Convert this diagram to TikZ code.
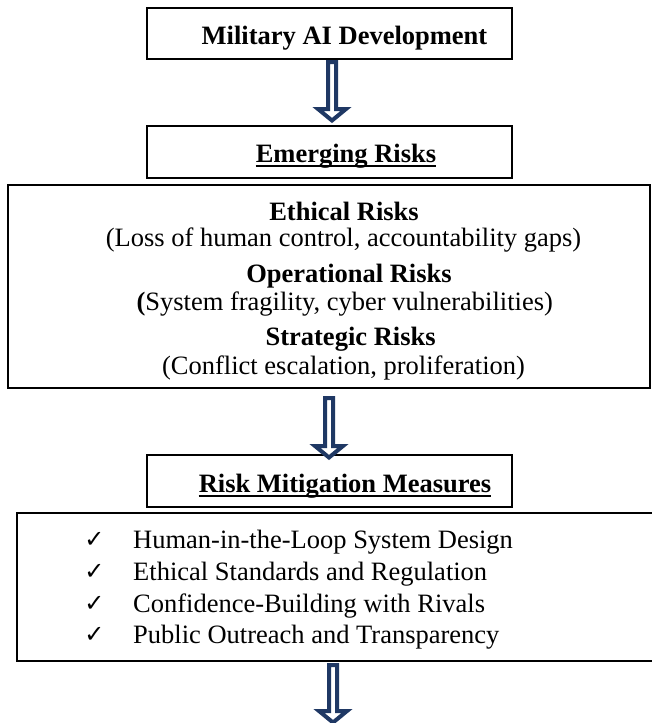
\documentclass[tikz,border=0pt]{standalone}
\usepackage{fontspec}
\setmainfont{Liberation Serif}
\newfontfamily\chkfont{DejaVu Sans}
\usetikzlibrary{calc}
\definecolor{navy}{HTML}{1F3864}
\begin{document}
\begin{tikzpicture}[x=1pt,y=-1pt,
  box/.style={draw=black, line width=2pt, inner sep=0pt, anchor=center},
  txt/.style={inner sep=0pt, anchor=base, font=\rmfamily\fontsize{26.5}{30}\selectfont},
  boldtxt/.style={inner sep=0pt, anchor=base, font=\rmfamily\fontsize{26.5}{30}\selectfont\bfseries},
  itemtxt/.style={inner sep=0pt, anchor=base west, font=\rmfamily\fontsize{26.5}{30}\selectfont},
  chk/.style={inner sep=0pt, anchor=base, font=\chkfont\fontsize{24}{28}\selectfont},
  barrow/.style={draw=navy, line width=4pt, fill=white, line join=miter},
  uline/.style={line width=1.8pt}]
\useasboundingbox (0,0) rectangle (652,723);
\fill[white] (0,0) rectangle (652,723);

% boxes
\node[box, minimum width=365pt, minimum height=51pt] (b1) at (329.5,33.5) {};
\node[box, minimum width=365pt, minimum height=52pt] (b2) at (329.5,152) {};
\node[box, minimum width=642pt, minimum height=203pt] (b3) at (329,286.5) {};
\node[box, minimum width=365pt, minimum height=52pt] (b4) at (329.5,481) {};
\node[box, minimum width=639pt, minimum height=148pt] (b5) at (336.5,587) {};

% titles
\node[boldtxt] (t1) at (344.5,44) {Military AI Development};
\node[boldtxt] (t2) at (346,162) {Emerging Risks};
\draw[uline] ($(t2.base west)+(0,4)$) -- ($(t2.base east)+(0,4)$);
\node[boldtxt] (t4) at (345,492) {Risk Mitigation Measures};
\draw[uline] ($(t4.base west)+(0,4)$) -- ($(t4.base east)+(0,4)$);

% risks
\node[boldtxt] (e1) at (344,220) {Ethical Risks};
\node[txt] (e2) at (343.5,246) {(Loss of human control, accountability gaps)};
\node[boldtxt] (e3) at (349,282) {Operational Risks};
\node[txt] (e4) at (344.7,310) {\textbf{(}System fragility, cyber vulnerabilities)};
\node[boldtxt] (e5) at (350.6,345) {Strategic Risks};
\node[txt] (e6) at (343.5,374) {(Conflict escalation, proliferation)};

% measures
\node[chk] (c1) at (94.5,547) {✓};
\node[itemtxt] (m1) at (133,548) {Human-in-the-Loop System Design};
\node[chk] (c2) at (94.5,579) {✓};
\node[itemtxt] (m2) at (133,580) {Ethical Standards and Regulation};
\node[chk] (c3) at (94.5,611) {✓};
\node[itemtxt] (m3) at (133,612) {Confidence-Building with Rivals};
\node[chk] (c4) at (94.5,642) {✓};
\node[itemtxt] (m4) at (133,643) {Public Outreach and Transparency};

% arrows
\draw[barrow] ($(b1.south)+(2.5,0)$) ++(-4,2) -- ++(0,47) -- ++(-10,0) -- ++(14,11.5) -- ++(14,-11.5) -- ++(-10,0) -- ++(0,-47) -- cycle;
\draw[barrow] ($(b3.south)+(0,0)$) ++(-4,9) -- ++(0,48) -- ++(-10,0) -- ++(14,11.5) -- ++(14,-11.5) -- ++(-10,0) -- ++(0,-48) -- cycle;
\coordinate (a3) at ($(b5.south)+(-3.5,0)$);
\draw[barrow] (a3) ++(-4,3) -- ++(0,46) -- ++(-10,0) -- ++(14,11.5) -- ++(14,-11.5) -- ++(-10,0) -- ++(0,-46) -- cycle;
\end{tikzpicture}
\end{document}
